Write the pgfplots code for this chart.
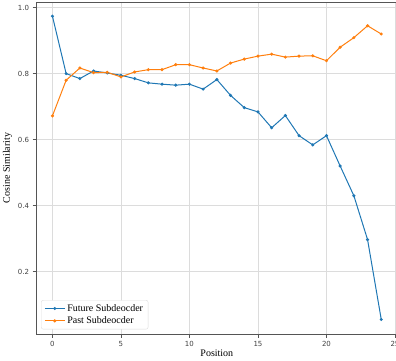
\documentclass[border=0pt]{standalone}
\usepackage{pgfplots}
\pgfplotsset{compat=1.18}
\usepackage{fontspec}
\setmainfont{Liberation Serif}
\newfontfamily\tickfont{DejaVu Sans}
\definecolor{tabblue}{HTML}{1F77B4}
\definecolor{taborange}{HTML}{FF7F0E}
\definecolor{spine}{HTML}{555555}
\definecolor{gridc}{HTML}{DCDCDC}
\begin{document}
\begin{tikzpicture}[x=1pt,y=1pt]
\begin{axis}[
  at={(36pt,26pt)}, anchor=south west,
  width=361.7pt, height=332pt, scale only axis,
  xmin=-1.2, xmax=25.2, ymin=0.011, ymax=1.017,
  xtick={0,5,10,15,20,25}, ytick={0.2,0.4,0.6,0.8,1.0},
  yticklabel style={/pgf/number format/.cd, fixed, fixed zerofill, precision=1},
  /pgf/number format/assume math mode=true,
  tick label style={font=\tickfont\fontsize{7}{8}\selectfont, color=black!75},
  grid=major, major grid style={gridc, line width=0.8pt},
  axis line style={spine, line width=0.8pt},
  tick style={spine, line width=0.6pt}, tick align=outside, major tick length=3.5pt,
  xtick pos=bottom, ytick pos=left,
  xlabel={Position}, ylabel={Cosine Similarity},
  label style={font=\fontsize{10}{12}\selectfont},
  xlabel style={yshift=3pt}, ylabel style={yshift=-1pt},
  legend style={font=\fontsize{10}{12}\selectfont, draw=gridc, rounded corners=2pt, fill=white, at={(0.014,0.014)}, anchor=south west, row sep=0pt, inner xsep=3pt, inner ysep=2pt},
  legend cell align=left,
  legend image code/.code={
    \draw[mark repeat=2,mark phase=2] plot coordinates {(0pt,0pt) (10pt,0pt) (20pt,0pt)};
  },
  every axis plot/.append style={line width=1pt, mark=*, mark size=1pt},
]
\addplot[tabblue, mark options={fill=tabblue}] coordinates {
(0,0.974)(1,0.800)(2,0.785)(3,0.808)(4,0.802)(5,0.795)(6,0.785)(7,0.772)(8,0.768)(9,0.765)
(10,0.768)(11,0.753)(12,0.782)(13,0.734)(14,0.697)(15,0.684)(16,0.636)(17,0.673)(18,0.612)(19,0.584)
(20,0.612)(21,0.520)(22,0.430)(23,0.297)(24,0.055)};
\addlegendentry{Future Subdeocder}
\addplot[taborange, mark options={fill=taborange}] coordinates {
(0,0.672)(1,0.780)(2,0.817)(3,0.803)(4,0.804)(5,0.790)(6,0.805)(7,0.812)(8,0.812)(9,0.827)
(10,0.827)(11,0.817)(12,0.808)(13,0.832)(14,0.844)(15,0.853)(16,0.859)(17,0.850)(18,0.853)(19,0.854)
(20,0.839)(21,0.880)(22,0.909)(23,0.945)(24,0.920)};
\addlegendentry{Past Subdeocder}
\end{axis}
\pgfresetboundingbox
\path[use as bounding box] (0,0) rectangle (396,360);
\end{tikzpicture}
\end{document}
